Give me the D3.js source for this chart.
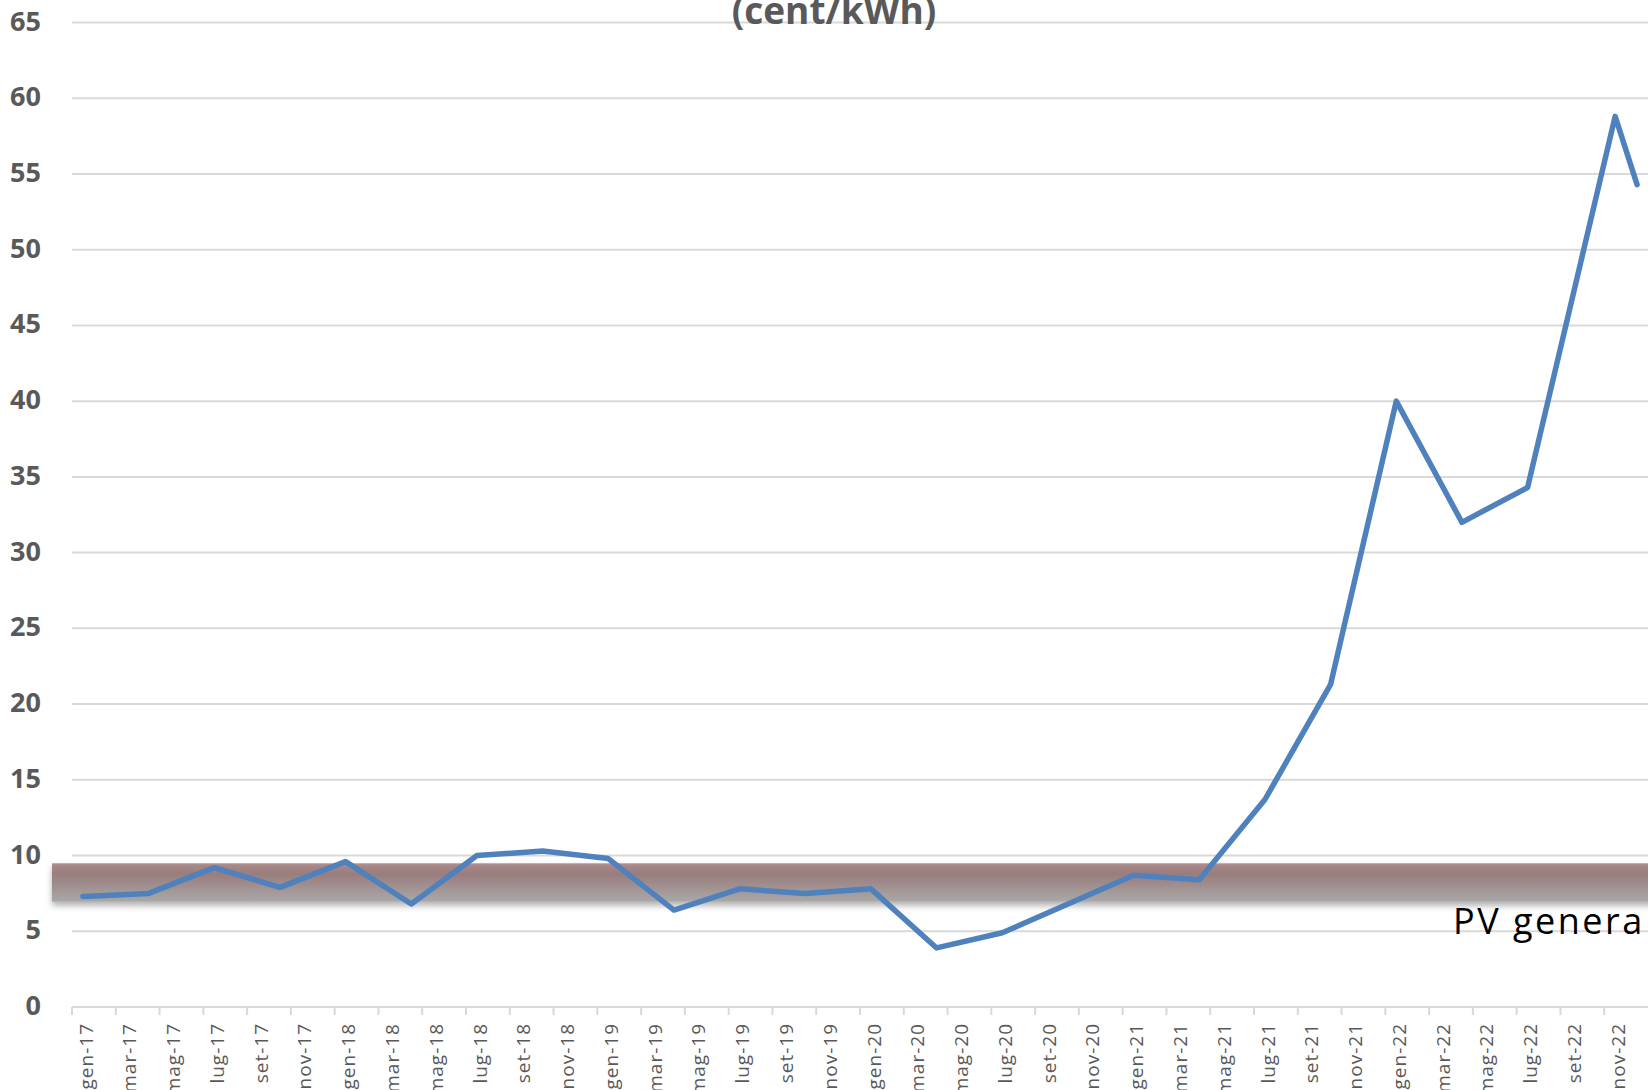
<!DOCTYPE html>
<html>
<head>
<meta charset="utf-8">
<script src="https://cdn.jsdelivr.net/npm/d3@7"></script>
<style>
  html, body { margin: 0; padding: 0; background: #fff; }
  svg { display: block; }
</style>
</head>
<body>
<svg id="chart" width="1648" height="1090"></svg>
<script>
// Monthly price of electricity (cent/kWh), quarterly readings plus the last months of 2022
const periods = [
  "gen-17", "apr-17", "lug-17", "ott-17",
  "gen-18", "apr-18", "lug-18", "ott-18",
  "gen-19", "apr-19", "lug-19", "ott-19",
  "gen-20", "apr-20", "lug-20",
  "gen-21", "apr-21", "lug-21", "ott-21",
  "gen-22", "apr-22", "lug-22", "nov-22", "dic-22"
];
const prices = [
  7.3, 7.5, 9.2, 7.9,
  9.6, 6.8, 10.0, 10.3,
  9.8, 6.4, 7.8, 7.5,
  7.8, 3.9, 4.9,
  8.7, 8.4, 13.7, 21.3,
  40.0, 32.0, 34.3, 58.8, 54.3
];

// Range of PV generation cost shown as a shaded band (cent/kWh)
const pvBand = [6.95, 9.5];
const pvLabel = "PV genera";
const titleText = "(cent/kWh)";

const monthNames = ["gen", "feb", "mar", "apr", "mag", "giu", "lug", "ago", "set", "ott", "nov", "dic"];
const years = ["17", "18", "19", "20", "21", "22"];

const tickLabels = [
  "gen-17", "mar-17", "mag-17", "lug-17", "set-17", "nov-17",
  "gen-18", "mar-18", "mag-18", "lug-18", "set-18", "nov-18",
  "gen-19", "mar-19", "mag-19", "lug-19", "set-19", "nov-19",
  "gen-20", "mar-20", "mag-20", "lug-20", "set-20", "nov-20",
  "gen-21", "mar-21", "mag-21", "lug-21", "set-21", "nov-21",
  "gen-22", "mar-22", "mag-22", "lug-22", "set-22", "nov-22"
];
const yTicks = [0, 5, 10, 15, 20, 25, 30, 35, 40, 45, 50, 55, 60, 65];

// Month slots of the date axis
const months = years.flatMap(yy => monthNames.map(m => `${m}-${yy}`));

const svg = d3.select("#chart");
const plotLeft = 72, plotRight = 1648, plotBottom = 1007, plotTop = 22.5;

const x = d3.scaleBand().domain(months).range([plotLeft, plotRight]).padding(0);
const y = d3.scaleLinear().domain([0, 65]).range([plotBottom, plotTop]);
const bw = x.bandwidth();

const defs = svg.append("defs");
const grad = defs.append("linearGradient")
  .attr("id", "bandFill").attr("x1", 0).attr("y1", 0).attr("x2", 0).attr("y2", 1);
grad.append("stop").attr("offset", "0%").attr("stop-color", "#ad8a8a");
grad.append("stop").attr("offset", "28%").attr("stop-color", "#997d7d");
grad.append("stop").attr("offset", "100%").attr("stop-color", "#aaa8a8");

const shadow = defs.append("filter").attr("id", "bandShadow")
  .attr("x", "-5%").attr("y", "-30%").attr("width", "110%").attr("height", "180%");
shadow.append("feDropShadow")
  .attr("dx", 0).attr("dy", 4).attr("stdDeviation", 3)
  .attr("flood-color", "#000").attr("flood-opacity", 0.3);

// Horizontal gridlines
svg.append("g")
  .selectAll("line")
  .data(yTicks.filter(v => v > 0))
  .join("line")
  .attr("x1", plotLeft).attr("x2", plotRight)
  .attr("y1", d => y(d)).attr("y2", d => y(d))
  .attr("stroke", "#d9d9d9").attr("stroke-width", 2);

// Y axis labels
const yAxis = svg.append("g")
  .attr("transform", `translate(41,0)`)
  .call(d3.axisLeft(y).tickValues(yTicks).tickSize(0).tickPadding(0));
yAxis.select(".domain").remove();
yAxis.selectAll("text")
  .attr("dy", "0.28em")
  .attr("fill", "#595959")
  .style("font-family", "'Open Sans', sans-serif")
  .style("font-weight", "700")
  .style("font-size", "27px");

// PV generation cost band
svg.append("rect")
  .attr("x", plotLeft - 20)
  .attr("y", y(pvBand[1]))
  .attr("width", plotRight - plotLeft + 40)
  .attr("height", y(pvBand[0]) - y(pvBand[1]))
  .attr("fill", "url(#bandFill)")
  .attr("filter", "url(#bandShadow)");
svg.append("line")
  .attr("x1", plotLeft - 20).attr("x2", plotRight)
  .attr("y1", y(pvBand[1]) + 0.5).attr("y2", y(pvBand[1]) + 0.5)
  .attr("stroke", "#c9b3b3").attr("stroke-width", 1);

// X axis: baseline, tick marks at two-month boundaries, rotated labels
const xAxis = svg.append("g");
xAxis.append("line")
  .attr("x1", plotLeft).attr("x2", plotRight)
  .attr("y1", plotBottom).attr("y2", plotBottom)
  .attr("stroke", "#d9d9d9").attr("stroke-width", 2);
xAxis.selectAll("line.tick")
  .data(tickLabels)
  .join("line")
  .attr("class", "tick")
  .attr("x1", d => x(d)).attr("x2", d => x(d))
  .attr("y1", plotBottom).attr("y2", plotBottom + 8)
  .attr("stroke", "#d9d9d9").attr("stroke-width", 2);
xAxis.selectAll("text")
  .data(tickLabels)
  .join("text")
  .attr("transform", d => `translate(${x(d) + bw / 2 + 3},${plotBottom + 16}) rotate(-90)`)
  .attr("text-anchor", "end")
  .attr("dy", "0.35em")
  .attr("fill", "#595959")
  .style("font-family", "'Open Sans', sans-serif")
  .style("font-size", "19px")
  .style("letter-spacing", "1px")
  .text(d => d);

// Price line
const series = periods.map((p, i) => ({ period: p, value: prices[i] }));
svg.append("path")
  .datum(series)
  .attr("fill", "none")
  .attr("stroke", "#4f81bd")
  .attr("stroke-width", 5.5)
  .attr("stroke-linejoin", "round")
  .attr("stroke-linecap", "round")
  .attr("d", d3.line().x(d => x(d.period) + bw / 2).y(d => y(d.value)));

// Band annotation
svg.append("text")
  .attr("x", 1453).attr("y", 934)
  .attr("fill", "#000")
  .style("font-family", "'Open Sans', sans-serif")
  .style("font-size", "36px")
  .style("letter-spacing", "2.5px")
  .text(pvLabel);

// Title (second line)
svg.append("text")
  .attr("x", 834).attr("y", 24)
  .attr("text-anchor", "middle")
  .attr("fill", "#595959")
  .style("font-family", "'Open Sans', sans-serif")
  .style("font-weight", "700")
  .style("font-size", "37px")
  .text(titleText);
</script>
</body>
</html>
